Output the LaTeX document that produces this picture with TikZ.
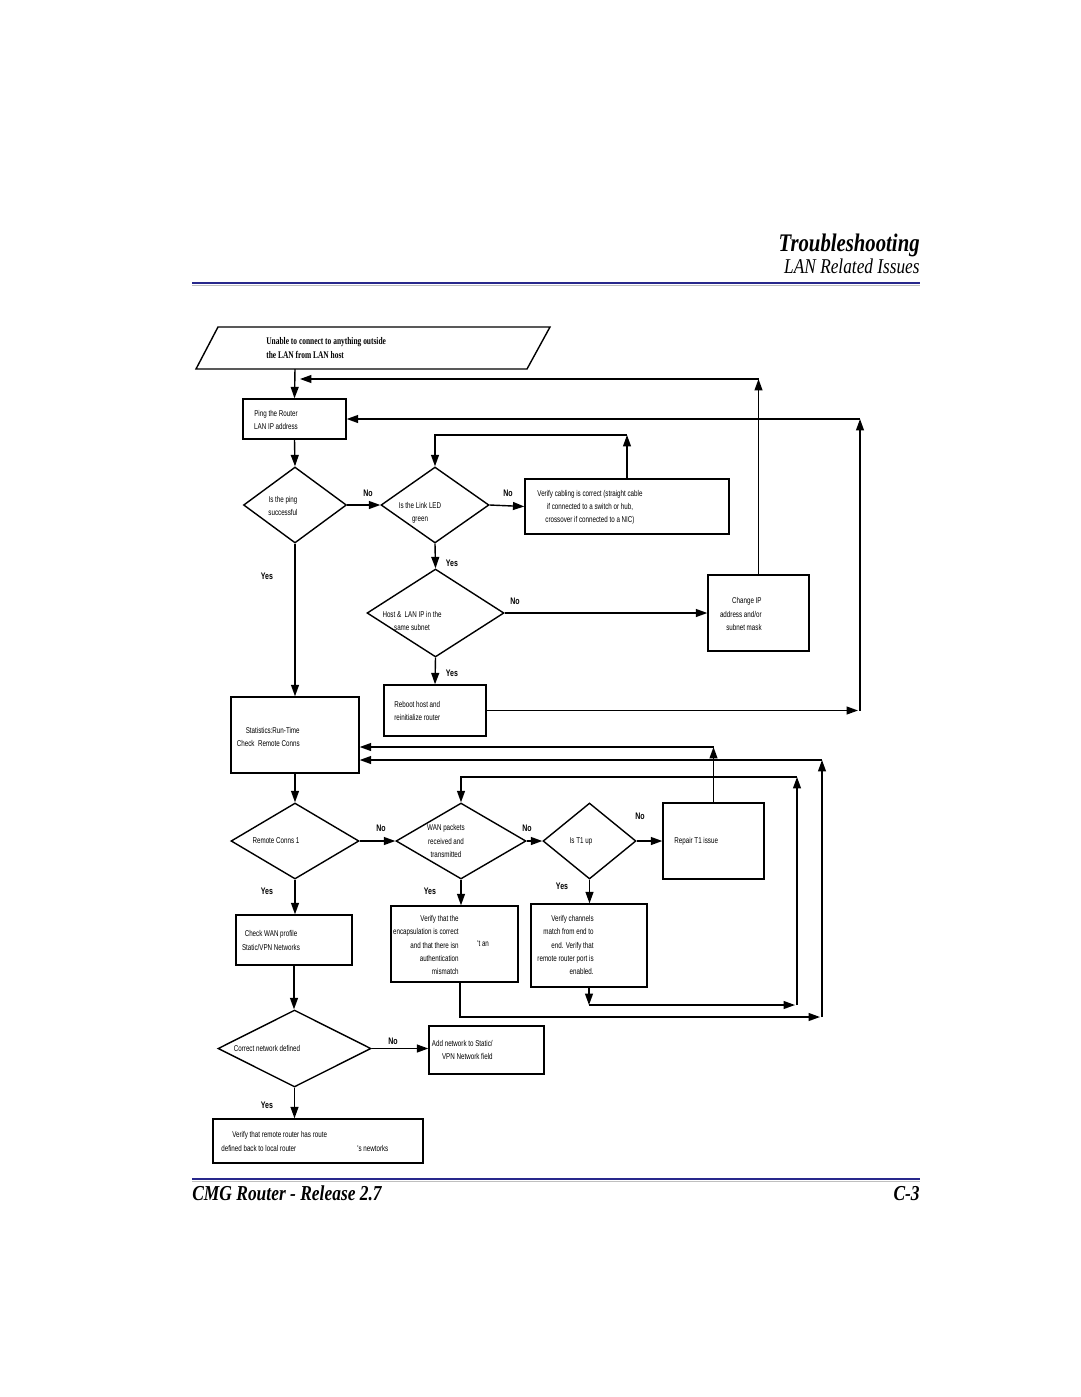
\documentclass[tikz,border=0pt]{standalone}
\usepackage{fontspec}
\setmainfont{Liberation Serif}
\newfontfamily\hdrfont[FakeStretch=0.82]{Liberation Serif}
\newfontfamily\nsans[FakeStretch=0.74]{Liberation Sans}
\newfontfamily\nserif[FakeStretch=0.73]{Liberation Serif}
\usetikzlibrary{shapes.geometric,arrows.meta,calc}
\definecolor{navyrule}{RGB}{40,40,140}
\tikzset{
  box/.style={draw, line width=0.8pt, inner sep=0pt, rectangle},
  dia/.style={draw, line width=0.8pt, inner sep=0pt, diamond},
  arr/.style={line width=0.8pt, -{Triangle[length=6.5pt,width=4.5pt]}},
  ln/.style={line width=0.8pt},
  txt/.style={font=\nsans\fontsize{4.8}{7.5}\selectfont, inner sep=0pt},
  lbl/.style={font=\nsans\bfseries\fontsize{5.4}{6}\selectfont, inner sep=0pt},
}
\begin{document}
\begin{tikzpicture}[x=0.02cm,y=-0.02cm]
\useasboundingbox (0,0) rectangle (1080,1397);
\fill[white] (0,0) rectangle (1080,1397);

% header
\node[anchor=base east, inner sep=0pt, font=\hdrfont\bfseries\itshape\fontsize{14.4}{16}\selectfont] (title) at (920,251) {Troubleshooting};
\node[anchor=base east, inner sep=0pt, font=\hdrfont\itshape\fontsize{12}{14}\selectfont] (subtitle) at (920,273) {LAN Related Issues};
\draw[navyrule, line width=1.4pt] (192,283) -- (920,283);
\draw[gray!50, line width=0.5pt] (192,285.5) -- (920,285.5);

% footer
\draw[navyrule, line width=1.4pt] (192,1179) -- (920,1179);
\draw[gray!50, line width=0.5pt] (192,1181.5) -- (920,1181.5);
\node[anchor=base west, inner sep=0pt, font=\hdrfont\bfseries\itshape\fontsize{12.1}{14}\selectfont] (foot) at (192,1200) {CMG Router - Release 2.7};
\node[anchor=base east, inner sep=0pt, font=\hdrfont\bfseries\itshape\fontsize{12.1}{14}\selectfont] (page) at (920,1200) {C-3};

% start parallelogram
\draw[ln] (218,327) -- (550,327) -- (527,369) -- (196,369) -- cycle;
\coordinate (startb) at (295,369);
\node[anchor=west, align=left, inner sep=0pt, font=\nserif\bfseries\fontsize{5.8}{8}\selectfont] (starttxt) at (266,348) {Unable to connect to anything outside\\the LAN from LAN host};

% nodes
\node[box, minimum width=2.06cm, minimum height=0.80cm] (ping) at (294.5,419) {};
\node[txt, align=center] (pingt) at (276,420) {Ping the Router\\LAN IP address};

\node[dia, minimum width=2.06cm, minimum height=1.52cm] (d1) at (295,505) {};
\node[txt, align=center] (d1t) at (283,506) {Is the ping\\successful};

\node[dia, minimum width=2.16cm, minimum height=1.52cm] (d2) at (435,505) {};
\node[txt, align=center] (d2t) at (420,513) {Is the Link LED\\green};

\node[box, minimum width=4.08cm, minimum height=1.10cm] (cable) at (627,506.5) {};
\node[txt, align=center] (cablet) at (590,507.5) {Verify cabling is correct (straight cable\\if connected to a switch or hub,\\crossover if connected to a NIC)};

\node[dia, minimum width=2.74cm, minimum height=1.76cm] (d3) at (435.5,613) {};
\node[txt, align=center] (d3t) at (412,621) {Host \&\ \ LAN IP in the\\same subnet};

\node[box, minimum width=2.02cm, minimum height=1.52cm] (chg) at (758.5,613) {};
\node[txt, align=right, anchor=east] (chgt) at (762,614) {Change IP\\address and/or\\subnet mask};

\node[box, minimum width=2.04cm, minimum height=1.02cm] (reboot) at (435,710.5) {};
\node[txt, align=left, anchor=west] (reboott) at (394,711) {Reboot host and\\reinitialize router};

\node[box, minimum width=2.56cm, minimum height=1.52cm] (stats) at (295,735) {};
\node[txt, align=right, anchor=east] (statst) at (300,737) {Statistics:Run-Time\\Check\ \ Remote Conns};

\node[dia, minimum width=2.56cm, minimum height=1.52cm] (d4) at (295,841) {};
\node[txt] (d4t) at (276,841) {Remote Conns 1};

\node[dia, minimum width=2.60cm, minimum height=1.52cm] (d5) at (461,841) {};
\node[txt, align=center] (d5t) at (446,841) {WAN packets\\received and\\transmitted};

\node[dia, minimum width=1.86cm, minimum height=1.52cm] (d6) at (589.5,841) {};
\node[txt] (d6t) at (581,841) {Is T1 up};

\node[box, minimum width=2.02cm, minimum height=1.52cm] (repair) at (713.5,841) {};
\node[txt, anchor=west] (repairt) at (674,841) {Repair T1 issue};

\node[box, minimum width=2.54cm, minimum height=1.52cm] (encap) at (454.5,944) {};
\node[txt, align=right, anchor=east] (encapt) at (459,945) {Verify that the\\encapsulation is correct\\and that there isn\hspace*{7.4pt}\\authentication\\mismatch};
\node[txt, anchor=west] (encapt2) at (477,944) {'t an};

\node[box, minimum width=2.32cm, minimum height=1.66cm] (chan) at (589,945.5) {};
\node[txt, align=right, anchor=east] (chant) at (594,945) {Verify channels\\match from end to\\end. Verify that\\remote router port is\\enabled.};

\node[box, minimum width=2.32cm, minimum height=1.00cm] (wan) at (294,940) {};
\node[txt, align=center] (want) at (271,940.5) {Check WAN profile\\Static/VPN Networks};

\node[dia, minimum width=3.06cm, minimum height=1.54cm] (d7) at (294.5,1048.5) {};
\node[txt] (d7t) at (267,1048) {Correct network defined};

\node[box, minimum width=2.30cm, minimum height=0.96cm] (addnet) at (486.5,1050) {};
\node[txt, align=right, anchor=east] (addnett) at (493,1050) {Add network to Static/\\VPN Network field};

\node[box, minimum width=4.20cm, minimum height=0.88cm] (final) at (318,1141) {};
\node[txt, anchor=west] (finalt1) at (232,1135) {Verify that remote router has route};
\node[txt, anchor=west] (finalt2) at (221,1148) {defined back to local router};
\node[txt, anchor=west] (finalt3) at (357,1148) {'s newtorks};

% connectors
\draw[arr] (startb) -- (ping.north);
\draw[arr] (ping.south) -- (d1.north);
\draw[arr] (d1.east) -- (d2.west);
\node[lbl] (l1) at (368,493) {No};
\draw[arr] (d2.east) -- (cable.west);
\node[lbl] (l2) at (508,493) {No};
\coordinate (c1) at (627,435);
\draw[arr] (cable.north) -- (c1);
\draw[arr] (c1) -| (d2.north);
\draw[arr] (d2.south) -- (d3.north);
\node[lbl] (l3) at (452,563) {Yes};
\draw[arr] (d3.east) -- (chg.west);
\node[lbl] (l4) at (515,601) {No};
\coordinate (c2) at (758.5,379);
\coordinate (c3) at (300,379);
\draw[arr] (chg.north) -- (c2);
\draw[arr] (c2) -- (c3);
\draw[arr] (d3.south) -- (reboot.north);
\node[lbl] (l5) at (452,673) {Yes};
\coordinate (c5) at (858,710.5);
\coordinate (c6) at (860,710.5);
\coordinate (c7) at (860,419);
\draw[arr] (reboot.east) -- (c5);
\draw[arr] (c6) -- (c7);
\draw[arr] (c7) -- (ping.east);
\draw[arr] (d1.south) -- (stats.north);
\node[lbl] (l6) at (267,576) {Yes};
\draw[arr] (stats.south) -- (d4.north);
\draw[arr] (d4.east) -- (d5.west);
\node[lbl] (l7) at (381,828) {No};
\draw[arr] (d5.east) -- (d6.west);
\node[lbl] (l8) at (527,828) {No};
\draw[arr] (d6.east) -- (repair.west);
\node[lbl] (l9) at (640,816) {No};
\coordinate (c8) at (713.5,747);
\draw[arr] (repair.north) -- (c8);
\draw[arr] (c8) -- (c8 -| stats.east);
% channels loop
\coordinate (c9) at (589,1005);
\coordinate (c10) at (795,1005);
\coordinate (c11) at (797,1005);
\coordinate (c12) at (797,777);
\draw[arr] (chan.south) -- (c9);
\draw[arr] (c9) -- (c10);
\draw[arr] (c11) -- (c12);
\draw[arr] (c12) -| (d5.north);
% encapsulation loop
\coordinate (c13) at (460,982);
\coordinate (c14) at (820,1017);
\coordinate (c15) at (822,1017);
\coordinate (c16) at (822,760);
\draw[arr] (c13) |- (c14);
\draw[arr] (c15) -- (c16);
\draw[arr] (c16) -- (c16 -| stats.east);
\draw[arr] (d5.south) -- (d5.south |- encap.north);
\node[lbl] (l10) at (430,891) {Yes};
\draw[arr] (d6.south) -- (d6.south |- chan.north);
\node[lbl] (l11) at (562,886) {Yes};
\draw[arr] (d4.south) -- (d4.south |- wan.north);
\node[lbl] (l12) at (267,891) {Yes};
\draw[arr] (wan.south) -- (wan.south |- d7.north);
\draw[arr] (d7.east) -- (d7.east -| addnet.west);
\node[lbl] (l13) at (393,1041) {No};
\draw[arr] (d7.south) -- (d7.south |- final.north);
\node[lbl] (l14) at (267,1105) {Yes};
\end{tikzpicture}
\end{document}
